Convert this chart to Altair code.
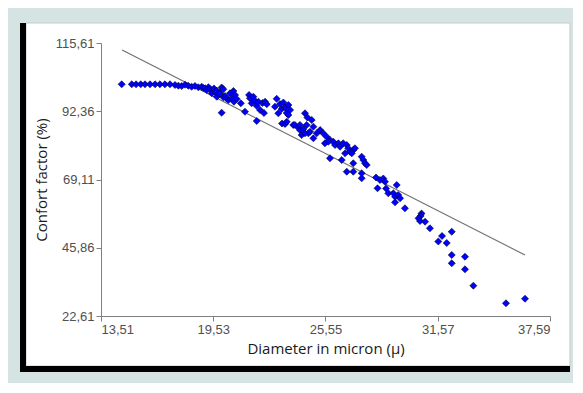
import altair as alt
import pandas as pd

# Axis ticks
x_ticks = [13.51, 19.53, 25.55, 31.57, 37.59]
y_ticks = [22.61, 45.86, 69.11, 92.36, 115.61]

# Scatter data: diameter (micron) and comfort factor (%)
diameter = [
    14.62, 15.16, 15.39, 15.64, 15.87, 16.14, 16.41, 16.67, 16.94, 17.21,
    17.48, 17.66, 17.84, 18.02, 18.19, 18.37, 18.55, 18.73, 18.91, 19.00,
    19.09, 19.27, 19.18, 19.36, 19.45, 19.57, 19.62, 19.72, 19.72, 19.80,
    19.89, 19.98, 20.07, 20.07, 20.16, 20.25, 20.34, 20.43, 20.52, 20.61,
    20.70, 20.64, 20.79, 21.01, 21.23, 19.98, 21.45, 21.50, 21.68, 21.59,
    21.77, 21.86, 21.95, 22.04, 22.17, 22.25, 22.31, 22.40, 21.86, 22.93,
    22.84, 23.11, 23.02, 23.20, 23.29, 23.38, 23.56, 23.47, 23.65, 23.22,
    23.38, 23.47, 23.56, 23.82, 23.91, 24.09, 24.18, 24.18, 24.36, 24.45,
    24.58, 24.81, 24.54, 24.90, 24.63, 24.27, 24.45, 24.72, 24.90, 25.08,
    25.26, 25.43, 25.61, 25.79, 25.52, 25.70, 25.97, 26.06, 26.24, 26.33,
    26.50, 26.69, 26.77, 26.86, 27.04, 27.13, 26.96, 26.60, 27.49, 27.58,
    27.67, 27.76, 25.79, 26.42, 27.04, 26.69, 27.04, 27.49, 27.49, 28.26,
    28.47, 28.65, 28.74, 28.34, 28.80, 28.92, 29.19, 29.37, 29.28, 29.45,
    29.55, 29.28, 29.81, 30.70, 30.65, 30.54, 30.62, 30.89, 31.15, 31.80,
    31.60, 32.05, 32.32, 32.32, 32.32, 33.03, 33.03, 33.48, 35.23, 36.25,
]
comfort = [
    101.54, 101.54, 101.54, 101.54, 101.54, 101.54, 101.54, 101.54, 101.54, 101.54,
    101.30, 101.06, 100.96, 101.41, 101.06, 100.72, 100.96, 100.52, 100.72, 100.28,
    100.18, 100.52, 99.60, 99.94, 98.48, 100.11, 99.02, 99.36, 97.32, 98.48,
    98.48, 100.45, 99.84, 97.11, 97.56, 96.70, 96.19, 98.48, 96.70, 99.26,
    97.90, 95.61, 96.53, 95.07, 92.21, 91.87, 97.90, 96.77, 97.32, 95.07,
    95.92, 94.22, 95.61, 92.79, 95.17, 91.76, 95.61, 94.76, 89.04, 96.60,
    93.91, 94.83, 91.66, 93.13, 95.34, 93.64, 94.49, 91.76, 92.79, 88.19,
    88.02, 88.80, 91.08, 87.68, 87.68, 86.82, 87.68, 85.97, 86.31, 91.66,
    90.23, 89.38, 87.68, 87.10, 84.85, 84.27, 84.85, 85.39, 83.15, 84.85,
    85.97, 84.85, 83.69, 82.57, 81.44, 81.99, 81.99, 80.86, 81.44, 80.28,
    81.44, 80.86, 79.74, 78.58, 79.16, 79.74, 78.04, 78.04, 76.88, 75.75,
    74.63, 74.05, 76.33, 75.75, 74.63, 71.77, 71.77, 71.22, 69.52, 69.79,
    68.94, 69.45, 68.36, 66.11, 66.04, 64.41, 64.41, 67.24, 63.25, 63.83,
    62.71, 61.34, 59.30, 57.53, 56.68, 55.89, 54.97, 54.73, 52.49, 49.86,
    47.99, 47.48, 51.33, 43.39, 40.56, 42.81, 38.52, 32.93, 26.94, 28.50,
]

# Linear trend line end points
trend_x = [14.64, 36.25]
trend_y = [113.23, 43.39]

points_df = pd.DataFrame({"d": diameter, "c": comfort})
trend_df = pd.DataFrame({"d": trend_x, "c": trend_y})
one = pd.DataFrame({"k": [0]})

label_expr = "replace(format(datum.value, '.2f'), '.', ',')"

xscale = alt.Scale(domain=[13.51, 37.59], nice=False, zero=False)
yscale = alt.Scale(domain=[22.61, 115.61], nice=False, zero=False)

xenc = alt.X("d:Q", scale=xscale,
             axis=alt.Axis(values=x_ticks, labelExpr=label_expr, zindex=1,
                           title="Diameter in micron (µ)", titlePadding=5,
                           labelPadding=2))
yenc = alt.Y("c:Q", scale=yscale,
             axis=alt.Axis(values=y_ticks, labelExpr=label_expr, zindex=1,
                           title="Confort factor (%)", titlePadding=6,
                           labelPadding=2))

panel = alt.Chart(one).mark_rect(color="white", stroke="#c8c8c8", strokeWidth=1).encode(
    x=alt.value(-75), x2=alt.value(469), y=alt.value(-20), y2=alt.value(323)
)
left_bar = alt.Chart(one).mark_rect(color="black").encode(
    x=alt.value(-81), x2=alt.value(-75), y=alt.value(-20), y2=alt.value(329)
)
bottom_bar = alt.Chart(one).mark_rect(color="black").encode(
    x=alt.value(-81), x2=alt.value(469), y=alt.value(323), y2=alt.value(329)
)

trend = alt.Chart(trend_df).mark_line(color="#707070", strokeWidth=1.2).encode(
    x=xenc, y=yenc
)

pts = alt.Chart(points_df).mark_point(
    shape="diamond", filled=True, fill="#0000ff", stroke="#000033",
    strokeWidth=0.6, size=50, opacity=1
).encode(x=xenc, y=yenc)

chart = alt.layer(panel, left_bar, bottom_bar, trend, pts).properties(
    width=449, height=273,
    autosize=alt.AutoSizeParams(type="none"),
    padding={"left": 93, "top": 35, "right": 23, "bottom": 67},
    background="#d5e3e3",
).configure_view(stroke=None).configure_axis(
    grid=False,
    domainColor="#808080", tickColor="#808080", tickSize=5,
    labelColor="#4f4f4f", labelFont="Liberation Sans", labelFontSize=13,
    titleFont="Open Sans", titleFontSize=15, titleFontWeight="normal",
    titleColor="#1a1a1a",
)

chart.save("out.html", embed_options={"renderer": "svg", "actions": False})
